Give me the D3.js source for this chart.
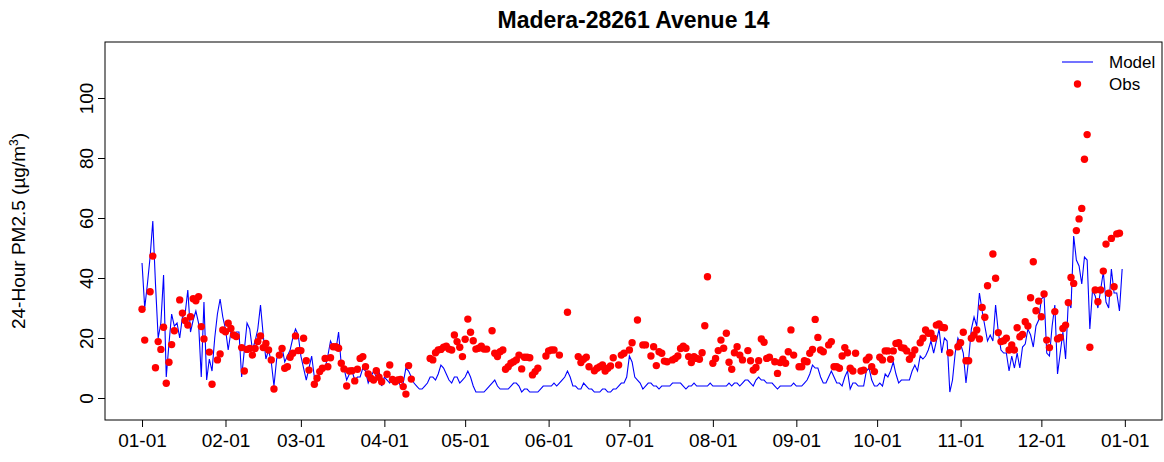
<!DOCTYPE html>
<html>
<head>
<meta charset="utf-8">
<script src="https://cdn.jsdelivr.net/npm/d3@7/dist/d3.min.js"></script>
<style>
  body { margin: 0; background: #ffffff; }
  svg { display: block; }
  text { font-family: "Liberation Sans", Arial, Helvetica, sans-serif; fill: #000; }
</style>
</head>
<body>
<svg id="chart" width="1164" height="462"></svg>
<script>
// Daily 24-hour PM2.5 at Madera-28261 Avenue 14, one value per day of the year (day 0 = Jan 1)
const modelPM = [
  45,30,38,47,59,38,20,25,41,7,
  18,28,24,25,20,27,28,36,22,26,
  29,25,7,32,6,13,9,20,28,33,
  27,23,16,22,21,22,22,7,16,25,
  23,16,19,23,31,21,13,16,12,4,
  13,15,17,12,14,16,20,23,21,14,
  10,6,10,14,7,6,8,9,10,14,
  19,17,16,22,11,10,6,8,9,6,
  7,7,10,9,5,7,9,7,9,4,
  7,6,5,7,5,6,4,5,10,9,
  7,5,4,3,3,4,5,7,7,6,
  8,11,10,8,6,5,7,7,5,6,
  7,9,7,4,2,2,2,2,3,4,
  5,6,4,3,3,3,3,4,5,5,
  4,2,3,3,2,2,2,2,3,4,
  4,4,4,5,4,5,6,7,9,7,
  4,4,3,3,5,4,3,3,2,2,
  2,3,3,2,2,3,3,4,5,5,
  7,14,12,7,6,5,3,4,5,5,
  4,4,3,4,4,4,4,5,5,5,
  5,4,3,4,4,5,4,4,4,4,
  4,5,4,4,4,4,4,4,5,4,
  5,5,4,5,6,6,5,4,6,7,
  6,6,5,5,5,4,3,4,4,4,
  4,4,5,4,4,4,5,6,8,11,
  10,10,7,5,5,7,9,7,5,5,
  4,7,9,3,5,5,4,4,4,9,
  10,6,4,4,5,4,8,7,9,12,
  8,5,6,6,6,6,9,11,9,14,
  13,14,16,19,15,19,23,15,20,19,
  2,6,15,20,18,15,5,13,23,27,
  24,35,29,24,19,21,19,31,22,16,
  15,15,9,14,10,15,10,17,18,23,
  21,17,24,26,33,34,15,14,24,31,
  8,15,22,13,32,30,54,46,44,38,
  47,46,23,36,34,30,36,42,32,30,
  43,35,35,29,43
];

// Monitor observations; null marks days without a valid sample
const obsPM = [
  29.6,19.3,null,35.4,47.3,10.1,18.8,16.2,23.6,4.9,
  11.9,17.8,22.4,null,32.7,28.3,25.8,24.3,27.1,33.1,
  32.4,33.8,23.8,19.7,null,15.3,4.6,null,12.7,14.7,
  22.7,22.1,24.9,23.2,21,20.5,null,16.8,9,16.2,
  16.5,14.3,16.5,18.8,20.7,16.8,18.2,16,12.7,3,
  null,14.3,16.5,9.9,10.4,13.6,14.9,20.7,15.8,15.8,
  19.9,12.4,9.3,null,4.6,6.6,8.8,9.9,13.2,10.4,
  13.4,17.1,17.1,16.6,11.6,9.7,4,9,9.1,5.7,
  9.6,13.2,13.8,10.4,8,6.6,6,9.1,6.9,5.4,
  null,7.9,11,6.2,5.4,6,6.2,3.8,1.3,10.8,
  6.3,null,null,null,null,null,null,13.2,12.7,15.1,
  16,16.2,16.9,17.3,16.3,16,21,18.8,16.9,13.8,
  19.6,26.3,21.9,19.1,16.3,16.6,17.3,16.3,16.3,null,
  22.4,14.9,13.8,15.4,16,9.6,10.4,11.6,12.1,12.7,
  14.3,9.7,13.6,13.6,13.4,7.7,8.8,9.9,null,null,
  14,15.7,16,16,null,14.3,null,null,28.6,null,
  null,null,13.8,11.8,12.9,13.6,10.4,null,9.1,9.9,
  10.4,11,9,9.9,10.7,13.4,null,11,14.3,14.9,
  null,16,18.4,null,26,null,17.7,17.7,null,14,
  17.1,10.8,15.4,14.9,12.3,12.1,null,12.7,13.2,14,
  16.5,17.3,16.6,13.8,11.8,13.8,13.2,12.9,15.1,24.1,
  40.4,null,11.6,13.2,15.8,19.3,16.6,21.6,11.9,9.6,
  15.1,17.1,14.3,12.7,null,15.8,12.4,9.3,10.2,12.4,
  19.7,18.6,13.2,13.6,null,12.1,8.2,11.8,12.9,11.6,
  15.4,22.7,14.3,null,10.4,10.4,12.4,12.1,14.9,16.2,
  26.2,20.2,16,15.4,null,17.7,18.8,10.4,10.4,9.9,
  14,16.8,15.1,9.9,9,14.9,null,9,9.3,12.7,
  13.6,10.4,8.8,null,13.6,12.7,15.7,15.7,12.9,15.7,
  18.2,18.4,16.8,16.6,15.7,12.9,14.3,16,null,18.4,
  19.9,22.7,21.6,21.6,19.9,24.3,24.7,23.6,23.4,null,
  15.1,null,null,17.1,18.4,21.9,12.4,12.4,19.9,21,
  22.7,19.7,30.2,26.9,37.4,null,48,39.9,21.8,18.8,
  19.1,19.9,16,17.7,16,23.4,20.4,21.2,25.4,24,
  33.4,45.4,29.1,32.3,27.1,34.7,19.3,16.8,null,28.8,
  19.7,20.2,23.2,24.3,31.8,40.2,38.2,55.8,59.7,63.2,
  79.6,87.8,16.9,null,36,32.1,36,42.3,51.3,34.9,
  53.2,37.1,54.7,54.9,null
];

// First day of each month (day-of-year offsets) and their labels
const monthStartDays = [0, 31, 59, 90, 120, 151, 181, 212, 243, 273, 304, 334, 365];
const monthLabels = ["01-01","02-01","03-01","04-01","05-01","06-01","07-01",
                     "08-01","09-01","10-01","11-01","12-01","01-01"];
const yTicks = [0, 20, 40, 60, 80, 100];

const chartTitle = "Madera-28261 Avenue 14";
const legendItems = ["Model", "Obs"];

const svg = d3.select("#chart");
const plot = { left: 105, right: 1162, top: 42, bottom: 420 };

const x = d3.scaleLinear().domain([-13.75, 378.8]).range([plot.left, plot.right]);
const y = d3.scaleLinear().domain([-7.33, 118.67]).range([plot.bottom, plot.top]);

const FONT = 19;

// Title
svg.append("text")
  .attr("x", (plot.left + plot.right) / 2)
  .attr("y", 28)
  .attr("text-anchor", "middle")
  .style("font-size", "23px")
  .style("font-weight", "bold")
  .text(chartTitle);

// X axis
const xAxis = d3.axisBottom(x)
  .tickValues(monthStartDays)
  .tickFormat((d, i) => monthLabels[i])
  .tickSize(7)
  .tickPadding(7);
const gx = svg.append("g")
  .attr("transform", `translate(0,${plot.bottom})`)
  .call(xAxis);
gx.select(".domain").remove();
gx.selectAll("line").attr("stroke", "#000");
gx.selectAll("text").style("font-size", FONT + "px").style("font-family", "Liberation Sans, Arial, sans-serif");

// Y axis with labels running parallel to the axis
const yAxis = d3.axisLeft(y).tickValues(yTicks).tickSize(7).tickPadding(0);
const gy = svg.append("g")
  .attr("transform", `translate(${plot.left},0)`)
  .call(yAxis);
gy.select(".domain").remove();
gy.selectAll("line").attr("stroke", "#000");
gy.selectAll(".tick text")
  .attr("x", null).attr("dy", null)
  .attr("text-anchor", "middle")
  .attr("transform", "translate(-12,0) rotate(-90)")
  .style("font-size", FONT + "px")
  .style("font-family", "Liberation Sans, Arial, sans-serif");

// Y axis title
const yt = svg.append("text")
  .attr("transform", `translate(25,${(plot.top + plot.bottom) / 2}) rotate(-90)`)
  .attr("text-anchor", "middle")
  .style("font-size", FONT + "px");
yt.append("tspan").text("24-Hour PM2.5 (\u00b5g/m");
yt.append("tspan").attr("dy", -7).style("font-size", "12px").text("3");
yt.append("tspan").attr("dy", 7).text(")");

// Model line
const days = d3.range(modelPM.length);
const line = d3.line()
  .x(d => x(d))
  .y(d => y(modelPM[d]));
svg.append("path")
  .datum(days)
  .attr("fill", "none")
  .attr("stroke", "#0000ff")
  .attr("stroke-width", 1.1)
  .attr("d", line);

// Observation points
svg.append("g")
  .selectAll("circle")
  .data(obsPM.map((v, i) => ({ day: i, v })).filter(d => d.v !== null))
  .join("circle")
  .attr("cx", d => x(d.day))
  .attr("cy", d => y(d.v))
  .attr("r", 3.7)
  .attr("fill", "#ff0000");

// Plot frame
svg.append("rect")
  .attr("x", plot.left).attr("y", plot.top)
  .attr("width", plot.right - plot.left)
  .attr("height", plot.bottom - plot.top)
  .attr("fill", "none")
  .attr("stroke", "#000")
  .attr("stroke-width", 1);

// Legend (no box)
const lg = svg.append("g");
lg.append("line")
  .attr("x1", 1062).attr("x2", 1093)
  .attr("y1", 62).attr("y2", 62)
  .attr("stroke", "#0000ff").attr("stroke-width", 1.1);
lg.append("circle")
  .attr("cx", 1077.5).attr("cy", 84).attr("r", 3.7).attr("fill", "#ff0000");
lg.selectAll("text.leg")
  .data(legendItems)
  .join("text")
  .attr("class", "leg")
  .attr("x", 1109)
  .attr("y", (d, i) => 68 + i * 22)
  .style("font-size", "17px")
  .text(d => d);
</script>
</body>
</html>
